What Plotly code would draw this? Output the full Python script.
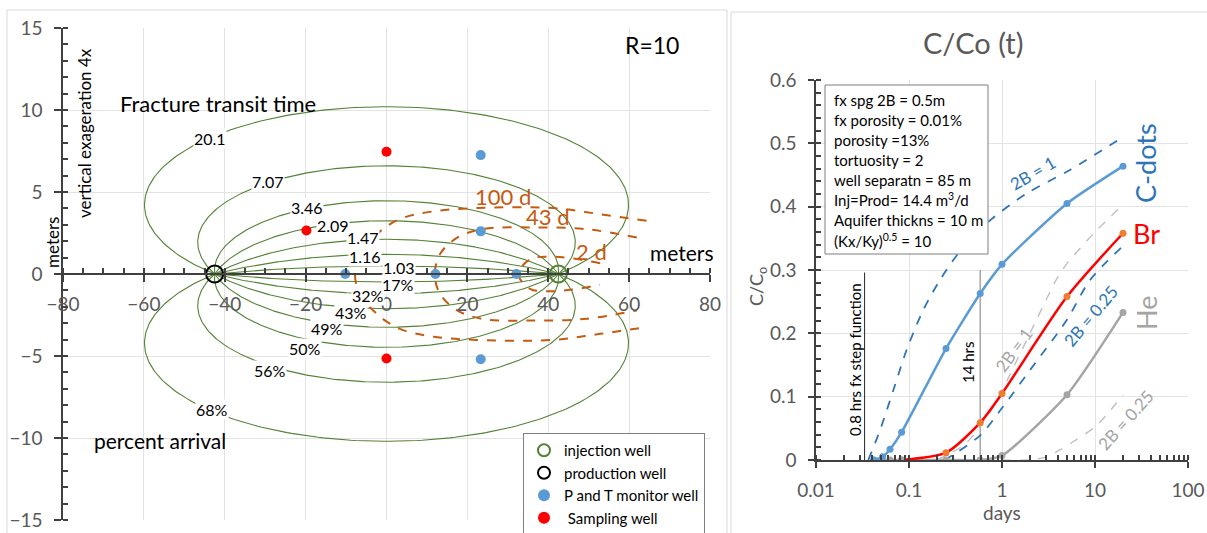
import numpy as np
import plotly.graph_objects as go

W, H = 1207, 533
FONT = "Lato"


def px(x):
    return x / W


def py(y):
    return 1 - y / H


# ---------------- left panel data ----------------
well_half_spacing = 42.5          # m (well separation 85 m)
anisotropy = 10                   # (Kx/Ky)^0.5
streamline_tops = [10.2, 6.6, 4.47, 3.25, 2.12, 1.2, 0.49]   # (m)
transit_labels = ["20.1", "7.07", "3.46", "2.09", "1.47", "1.16", "1.03"]
arrival_labels = ["68%", "56%", "50%", "49%", "43%", "32%", "17%"]

front_100d_x = [64.3, 52.8, 41.2, 22.3, 11.6, 3.3, -2.4, -6.6, -7.8]
front_100d_y = [3.24, 3.65, 4.02, 4.02, 3.82, 3.35, 2.43, 1.2, 0.0]
front_43d_x = [61.9, 49.5, 36.3, 23.5, 17.4, 13.2, 11.95]
front_43d_y = [2.22, 2.73, 2.84, 2.73, 2.2, 1.2, 0.0]
front_2d_x = [52.8, 46.0, 40.0, 35.5, 32.6]
front_2d_y = [0.65, 0.95, 1.05, 0.9, 0.0]
front_labels = ["100 d", "43 d", "2 d"]

injection_x, injection_y = [42.5], [0]
production_x, production_y = [-42.5], [0]
monitor_x = [-10.2, 12.1, 32.1, 23.3, 23.3, 23.3]
monitor_y = [0, 0, 0, 7.25, 2.6, -5.2]
sampling_x = [0, 0, -19.8]
sampling_y = [7.45, -5.15, 2.65]

# ---------------- right panel data ----------------
sample_days = [0.0417, 0.052, 0.0625, 0.0833, 0.25, 0.583, 1, 5, 20]
cdots_c = [0, 0.005, 0.017, 0.044, 0.176, 0.263, 0.309, 0.405, 0.464]
br_c = [0, 0, 0, 0, 0.0115, 0.059, 0.105, 0.258, 0.358]
he_c = [0, 0, 0, 0, 0, 0, 0.007, 0.103, 0.233]

cdots_2b1_x = [0.0365, 0.0488, 0.0678, 0.0944, 0.1426, 0.215, 0.339, 0.713, 1.85, 5.38, 20]
cdots_2b1_y = [0, 0.047, 0.11, 0.174, 0.237, 0.284, 0.326, 0.376, 0.421, 0.458, 0.51]
cdots_2b025_x = [0.24, 0.276, 0.583, 1.0, 2.0, 4.97, 8.83, 20]
cdots_2b025_y = [0, 0.005, 0.039, 0.082, 0.142, 0.221, 0.284, 0.338]
he_2b1_x = [0.2, 0.4, 0.7, 1.0, 1.22, 2.36, 3.88, 5.0, 10, 20]
he_2b1_y = [0, 0.025, 0.07, 0.11, 0.135, 0.222, 0.286, 0.31, 0.36, 0.403]
he_2b025_x = [1.0, 2.0, 3.0, 4.2, 6.0, 10.5, 20]
he_2b025_y = [0, 0, 0.005, 0.016, 0.03, 0.055, 0.103]

step_fn_day = 0.0333     # 0.8 hrs
hrs14_day = 0.583        # 14 hrs
marker_line_top = [0.296, 0.3]

box_lines = [
    "fx spg 2B = 0.5m",
    "fx porosity = 0.01%",
    "porosity =13%",
    "tortuosity = 2",
    "well separatn = 85 m",
    "Inj=Prod= 14.4 m<sup>3</sup>/d",
    "Aquifer thickns = 10 m",
    "(Kx/Ky)<sup>0.5</sup> = 10",
]

# ---------------- colours ----------------
GREEN = "#548235"
ORANGE = "#C55A11"
BLUE = "#5B9BD5"
BLUE_D = "#2E75B6"
GRAY = "#A5A5A5"
GRAY_D = "#BFBFBF"
AX = "#404040"
TXT = "#595959"
GRID = "#E3E3E3"

fig = go.Figure()


def arc(top):
    a = well_half_spacing
    T = top * anisotropy
    c = (T ** 2 - a ** 2) / (2 * T)
    R = T - c
    th0 = np.arccos(-c / R)
    th = np.linspace(-th0, th0, 240)
    return R * np.sin(th), (c + R * np.cos(th)) / anisotropy


for top in streamline_tops:
    ax_, ay_ = arc(top)
    for sgn in (1, -1):
        fig.add_trace(go.Scatter(x=ax_, y=sgn * ay_, mode="lines",
                                 line=dict(color=GREEN, width=1.1),
                                 showlegend=False, hoverinfo="skip",
                                 xaxis="x", yaxis="y"))


def mirrored(xs, ys):
    fx = list(xs) + list(reversed(xs[:-1]))
    fy = list(ys) + [-v for v in reversed(ys[:-1])]
    return fx, fy


for fxs, fys in [(front_100d_x, front_100d_y), (front_43d_x, front_43d_y), (front_2d_x, front_2d_y)]:
    mx, my = mirrored(fxs, fys)
    fig.add_trace(go.Scatter(x=mx, y=my, mode="lines", line_shape="spline",
                             line=dict(color=ORANGE, width=2, dash="dash"),
                             showlegend=False, hoverinfo="skip", xaxis="x", yaxis="y"))

fig.add_trace(go.Scatter(x=injection_x, y=injection_y, mode="markers", name="injection well",
                         marker=dict(symbol="circle-open", size=17, color=GREEN, line=dict(width=2)),
                         xaxis="x", yaxis="y"))
fig.add_trace(go.Scatter(x=production_x, y=production_y, mode="markers", name="production well",
                         marker=dict(symbol="circle-open", size=17, color="black", line=dict(width=2)),
                         xaxis="x", yaxis="y"))
fig.add_trace(go.Scatter(x=monitor_x, y=monitor_y, mode="markers", name="P and T monitor well",
                         marker=dict(size=10, color=BLUE), xaxis="x", yaxis="y"))
fig.add_trace(go.Scatter(x=sampling_x, y=sampling_y, mode="markers", name=" Sampling well",
                         marker=dict(size=10, color="#FF0000"), xaxis="x", yaxis="y"))

# ---------------- right panel traces ----------------
def rline(x, y, color, width, dash=None, smooth=1.0):
    fig.add_trace(go.Scatter(x=x, y=y, mode="lines", line_shape="spline",
                             line=dict(color=color, width=width, dash=dash, smoothing=smooth),
                             showlegend=False, hoverinfo="skip", xaxis="x2", yaxis="y2"))


fig.add_trace(go.Scatter(x=[step_fn_day, step_fn_day], y=[0, marker_line_top[0]], mode="lines",
                         line=dict(color="#262626", width=1), showlegend=False, xaxis="x2", yaxis="y2"))
fig.add_trace(go.Scatter(x=[hrs14_day, hrs14_day], y=[0, marker_line_top[1]], mode="lines",
                         line=dict(color="#A6A6A6", width=1.5), showlegend=False, xaxis="x2", yaxis="y2"))

rline(cdots_2b1_x, cdots_2b1_y, BLUE_D, 1.8, "dash", 0.8)
rline(cdots_2b025_x, cdots_2b025_y, BLUE_D, 1.8, "dash", 0.8)
rline(he_2b1_x, he_2b1_y, GRAY_D, 1.4, "dash", 0.8)
rline(he_2b025_x, he_2b025_y, GRAY_D, 1.4, "dash", 0.8)

fig.add_trace(go.Scatter(x=sample_days, y=he_c, mode="lines", line_shape="spline",
                         line=dict(color=GRAY, width=2.5, smoothing=0.6),
                         showlegend=False, xaxis="x2", yaxis="y2"))
fig.add_trace(go.Scatter(x=sample_days[3:], y=br_c[3:], mode="lines+markers", line_shape="spline",
                         line=dict(color="#FF0000", width=2.5, smoothing=0.7),
                         marker=dict(color="#ED7D31", size=7),
                         showlegend=False, xaxis="x2", yaxis="y2"))
fig.add_trace(go.Scatter(x=sample_days, y=he_c, mode="markers",
                         marker=dict(color=GRAY, size=7),
                         showlegend=False, xaxis="x2", yaxis="y2"))
fig.add_trace(go.Scatter(x=sample_days, y=cdots_c, mode="lines+markers", line_shape="spline",
                         line=dict(color=BLUE, width=2.5, smoothing=0.6),
                         marker=dict(color=BLUE, size=7),
                         showlegend=False, xaxis="x2", yaxis="y2"))

# ---------------- annotations ----------------
ann = []


def note(x, y, text, size, color="black", angle=0, xa="center", ya="middle", ref="paper", bg=None):
    d = dict(x=x, y=y, text=text, showarrow=False, textangle=angle,
             font=dict(family=FONT, size=size, color=color), xanchor=xa, yanchor=ya)
    if ref == "paper":
        d.update(xref="paper", yref="paper")
    else:
        d.update(xref=ref[0], yref=ref[1])
    if bg:
        d.update(bgcolor=bg, borderpad=0)
    ann.append(d)


transit_label_pos = [(-43.6, 8.27), (-29.3, 5.63), (-19.7, 4.04), (-13.3, 2.98),
                     (-5.8, 2.25), (-5.2, 1.08), (3.2, 0.4)]
arrival_label_pos = [(-43.1, -8.27), (-28.8, -5.88), (-20.2, -4.53), (-14.7, -3.3),
                     (-8.8, -2.35), (-4.6, -1.3), (2.8, -0.61)]
for t, (lx, ly) in zip(transit_labels, transit_label_pos):
    note(lx, ly, t, 16, ref=("x", "y"), bg="white")
for t, (lx, ly) in zip(arrival_labels, arrival_label_pos):
    note(lx, ly, t, 16, ref=("x", "y"), bg="white")

front_label_pos = [(28.8, 4.7), (39.9, 3.5), (50.7, 1.4)]
for t, (lx, ly) in zip(front_labels, front_label_pos):
    note(lx, ly, t, 22, ORANGE, ref=("x", "y"))

note(px(652), py(45), "R=10", 23)
note(px(218), py(103), "Fracture transit time", 22)
note(px(160), py(440), "percent arrival", 21)
note(px(682), py(252), "meters", 21)
note(px(52), py(243), "meters", 17, angle=-90)
note(px(85), py(133), "vertical exageration 4x", 17, angle=-90)

# right panel
note(px(973), py(42), "C/Co (t)", 29, TXT)
note(px(757), py(287), "C/C<sub>o</sub>", 18, TXT, angle=-90)
note(px(1002), py(512), "days", 19, TXT)
for i, line in enumerate(box_lines):
    note(px(832), py(100 + 20 * i), line, 15, "black", xa="left")
note(px(855), py(360), "0.8 hrs fx step function", 15, "black", angle=-90)
note(px(968), py(362), "14 hrs", 15, "black", angle=-90)
note(px(1032), py(173), "2B = 1", 17, BLUE_D, angle=-30)
note(px(1013), py(350), "2B = 1", 17, GRAY, angle=-54)
note(px(1090), py(316), "2B = 0.25", 17, BLUE_D, angle=-50)
note(px(1125), py(420), "2B = 0.25", 17, GRAY, angle=-48)
note(px(1146), py(163), "C-dots", 27, BLUE_D, angle=-90)
note(px(1146), py(234), "Br", 27, "#FF0000")
note(px(1146), py(313), "He", 27, GRAY, angle=-90)

shapes = [
    dict(type="rect", xref="paper", yref="paper", x0=px(7), x1=px(727), y0=-0.05, y1=py(10),
         line=dict(color="#D9D9D9", width=1), layer="below"),
    dict(type="rect", xref="paper", yref="paper", x0=px(731), x1=1.05, y0=-0.05, y1=py(12),
         line=dict(color="#D9D9D9", width=1), layer="below"),
    dict(type="rect", xref="paper", yref="paper", x0=px(825), x1=px(988), y0=py(254), y1=py(85),
         line=dict(color="#7F7F7F", width=1), fillcolor="white", layer="above"),
]

ydom = [1 - 520 / H, 1 - 28 / H]
tickfont = dict(family=FONT, size=19, color=TXT)

common = dict(showline=True, linecolor=AX, linewidth=1.5, ticks="outside",
              tickcolor=AX, tickwidth=1.5, showgrid=True, gridcolor=GRID,
              zeroline=False, tickfont=tickfont, automargin=False)

fig.update_layout(
    width=W, height=H, margin=dict(l=0, r=0, t=0, b=0, autoexpand=False),
    paper_bgcolor="white", plot_bgcolor="white",
    font=dict(family=FONT),
    xaxis=dict(domain=[63 / W, 710 / W], range=[-80, 80], dtick=20, anchor="free",
               position=(ydom[0] + ydom[1]) / 2, ticklen=7, ticklabelstandoff=6,
               minor=dict(dtick=5, ticks="inside", ticklen=5, tickcolor=AX, showgrid=False),
               **common),
    yaxis=dict(domain=ydom, range=[-15, 15], dtick=5, anchor="x", ticklen=7,
               ticklabelstandoff=8,
               minor=dict(dtick=1, ticks="inside", ticklen=5, tickcolor=AX, showgrid=False),
               **common),
    xaxis2=dict(domain=[816 / W, 1188 / W], type="log", range=[-2, 2], dtick=1, anchor="y2",
                ticklen=6, ticklabelstandoff=6,
                minor=dict(ticks="inside", ticklen=5, tickcolor=AX, showgrid=False),
                **common),
    yaxis2=dict(domain=[1 - 460 / H, 1 - 80 / H], range=[0, 0.6], dtick=0.1, anchor="x2",
                ticklen=6, ticklabelstandoff=8,
                minor=dict(dtick=0.02, ticks="inside", ticklen=5, tickcolor=AX, showgrid=False),
                **common),
    legend=dict(x=px(523), y=py(433), xanchor="left", yanchor="top",
                bordercolor="#7F7F7F", borderwidth=1, bgcolor="white",
                font=dict(family=FONT, size=15, color="black"), itemsizing="constant",
                tracegroupgap=0),
    annotations=ann,
    shapes=shapes,
)

fig.write_html("out.html", config={"displayModeBar": False},
               post_script="document.body.style.margin='0';document.body.style.overflow='hidden';")
